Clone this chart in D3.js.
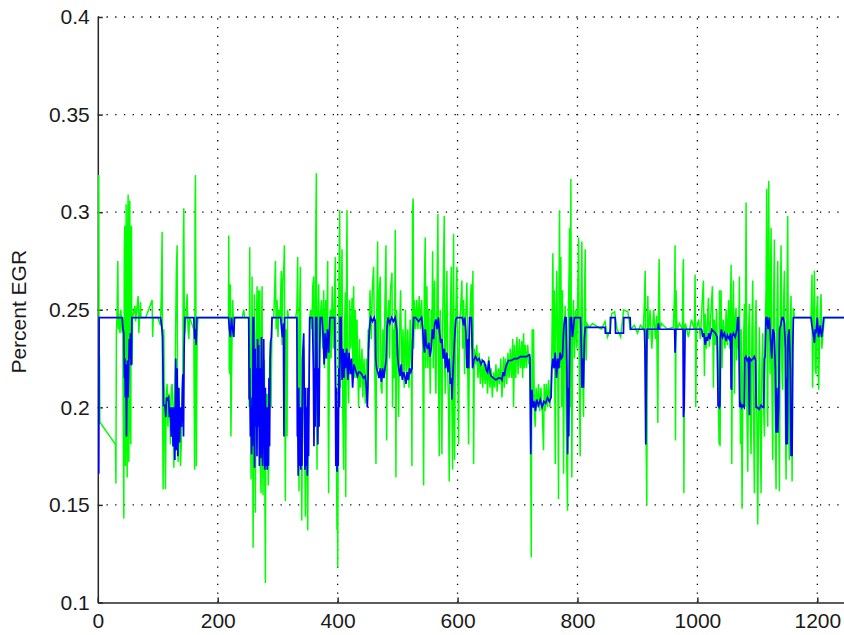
<!DOCTYPE html>
<html>
<head>
<meta charset="utf-8">
<script src="https://cdn.jsdelivr.net/npm/d3@7"></script>
<style>
  body { margin: 0; background: #fff; }
  svg { display: block; }
  text { font-family: "Liberation Sans", Arial, sans-serif; }
</style>
</head>
<body>
<div id="vis"></div>
<script>

// axis setup
const xTicks = [0, 200, 400, 600, 800, 1000, 1200];
const yTicks = [0.1, 0.15, 0.2, 0.25, 0.3, 0.35, 0.4];
const xMax = 1244.5;
const yLabel = "Percent EGR";

// green trace (estimated EGR) as [sample, value]
const greenSeries = [
  [1.6,0.319],[2.2,0.192],[2.8,0.226],[3.4,0.192],[4.5,0.192],[29.5,0.181],[30.2,0.161],[31,0.238],[32,0.246],[33.4,0.275],[34.2,0.24],[35,0.248],[37,0.238],[38.5,0.25],[40.6,0.238],[41.5,0.246],
  [43.4,0.143],[44.2,0.28],[45.1,0.293],[46,0.17],[47.3,0.304],[48,0.2],[49,0.164],[49.8,0.29],[50.6,0.309],[51.2,0.18],[51.8,0.172],[52.6,0.3],[53.4,0.306],[54.2,0.19],[55.1,0.181],[55.6,0.29],[56.2,0.293],[56.8,0.23],[57.3,0.222],[58,0.246],
  [62,0.252],[63,0.244],[67.3,0.257],[68.4,0.238],[71.2,0.254],[72,0.246],[80,0.246],[90.6,0.255],[91.5,0.236],[92.5,0.246],[100,0.246],[104.5,0.242],
  [106,0.26],[107.3,0.29],[108,0.2],[109,0.158],[110.1,0.24],[111,0.2],[112.9,0.158],[114,0.205],[115.6,0.212],[117,0.19],[118.4,0.207],[119.5,0.205],[121.2,0.181],[122.5,0.21],[124,0.212],[125.5,0.2],[126.8,0.169],[128,0.2],[129.5,0.23],[131,0.27],[132.3,0.283],[133,0.2],[134,0.172],[135.1,0.21],[136.5,0.19],[137.9,0.17],[139.5,0.183],[140.6,0.21],[141.8,0.217],[142.6,0.28],[143.4,0.302],[144.2,0.25],[145.1,0.238],[147,0.246],[149,0.258],[150.5,0.24],[151.8,0.235],[153,0.246],
  [160.1,0.24],[160.8,0.2],[161.5,0.168],[162.2,0.3],[162.9,0.319],[163.6,0.25],[164.4,0.17],[165.6,0.235],[167,0.246],
  [218,0.246],[218.4,0.288],[219.2,0.22],[220.1,0.217],[221.2,0.263],[222,0.185],[224,0.24],[225,0.255],[226.7,0.236],[228,0.246],[241,0.246],[243.4,0.25],[245,0.246],[251.7,0.246],[252.5,0.2],
  [253.4,0.282],[254.5,0.2],[255.6,0.163],[256.5,0.22],[257.3,0.267],[258.2,0.2],[259,0.128],[260.1,0.22],[261.2,0.258],[262,0.18],[262.8,0.146],[264,0.23],[265.6,0.262],[266.5,0.21],[267.3,0.207],[268.4,0.26],[269.2,0.2],[270.1,0.26],[271,0.17],[272.3,0.156],[273,0.24],[274,0.262],[274.8,0.18],[275.6,0.155],[276.7,0.224],[277.8,0.224],[278.6,0.16],[279.5,0.11],[280.3,0.2],[281.2,0.207],[282.3,0.17],[283.4,0.207],[284.2,0.16],[285,0.17],[286.5,0.22],[287.8,0.234],[289,0.2],[290.6,0.246],
  [293.4,0.246],[295,0.26],[296.2,0.275],[297.5,0.24],[299,0.255],[300.5,0.236],[302,0.25],[304,0.246],[306,0.27],[307.3,0.232],[308.5,0.265],[310,0.27],[311.2,0.283],[312,0.2],[312.8,0.152],[314,0.24],[315.6,0.185],[316.5,0.25],[318,0.246],
  [330,0.246],[332,0.25],[333.4,0.277],[334.5,0.2],[335.6,0.157],[336.7,0.25],[337.8,0.272],[339,0.2],[340.1,0.142],[341.5,0.2],[343.4,0.231],[344.8,0.19],[346.2,0.144],[347,0.2],[347.8,0.2],[349,0.17],[350.1,0.137],[351.2,0.2],[352.3,0.207],[353.4,0.246],
  [355,0.25],[357,0.24],[358.5,0.262],[360.1,0.267],[361,0.2],[362.8,0.25],[363.6,0.29],[364.5,0.32],[365,0.2],[365.6,0.168],[366.5,0.24],[368.4,0.263],[369.5,0.22],[371,0.246],[373,0.255],[375,0.23],[376.7,0.26],[378,0.22],[380,0.255],[381.5,0.225],[383.4,0.275],[384.2,0.2],[385,0.156],[386,0.22],[387.8,0.25],[389,0.225],[391,0.262],[393,0.23],[395,0.26],
  [396.2,0.277],[397.5,0.2],[398.9,0.137],[399.5,0.2],[400.1,0.118],[401,0.2],[402,0.26],[403.4,0.301],[404.5,0.21],[405.6,0.24],[407.3,0.281],[408.5,0.2],[410.1,0.168],[411.5,0.24],[412.8,0.259],[413.5,0.154],[414.5,0.25],[415.6,0.301],[416.5,0.22],[418.4,0.202],[420,0.255],[422,0.23],[424,0.256],[425.5,0.22],[426.7,0.262],[428,0.215],[429.5,0.25],[431,0.215],[432.2,0.245],[434,0.215],[435,0.2],[436.5,0.235],[438,0.21],[440.6,0.23],[442,0.205],[444,0.225],[446.1,0.202],[448,0.225],[449.5,0.21],[451,0.24],[452.5,0.23],[454,0.26],[456,0.235],[458,0.262],[460,0.272],[461.5,0.23],[462.8,0.2],[463.9,0.171],[465,0.24],[466.7,0.285],[467.5,0.22],[468.4,0.22],[469.5,0.26],[471.1,0.267],[472.5,0.21],[473.9,0.207],[475.5,0.24],[477,0.215],[479,0.255],[480.6,0.283],[481.7,0.183],[483,0.24],[485,0.255],[486.5,0.225],[488,0.26],[490.6,0.269],[491.5,0.2],[493,0.24],[494.5,0.215],[496.1,0.291],[497.2,0.164],[498.2,0.25],[500,0.235],[501.7,0.195],[503,0.235],[505,0.26],[507,0.215],[509,0.24],[511,0.21],[513,0.25],[515,0.215],[517,0.24],[519,0.21],[521,0.245],[523,0.22],[523.9,0.17],[524.8,0.3],[526,0.307],[526.7,0.23],[528,0.255],[530,0.24],[532,0.255],[534,0.24],[536,0.257],[538,0.24],[540,0.255],[542,0.23],[543.4,0.16],[544.5,0.26],[546.1,0.287],[547,0.22],[548.9,0.262],[550.5,0.22],[552,0.25],[554.5,0.207],[556,0.25],[557.2,0.235],[558.4,0.28],[559.5,0.22],[560.5,0.25],[561.7,0.265],[562.8,0.22],[563.9,0.207],[565.5,0.25],[567.2,0.299],[568.2,0.22],[569.5,0.175],[571,0.25],[572.5,0.23],[573.9,0.176],[575,0.24],[576.5,0.27],[577.8,0.298],[578.6,0.22],[579.5,0.207],[581,0.25],[582.2,0.27],[583.5,0.22],[585,0.2],[586.1,0.162],[587.5,0.24],[589.5,0.272],[590.6,0.2],[591.7,0.168],[592.5,0.25],[593.4,0.289],[594.2,0.2],[595,0.173],[596.5,0.24],[598.9,0.272],[600,0.23],[601.7,0.181],[603,0.24],[605,0.25],[607.2,0.265],[608.5,0.23],[610,0.255],[611.7,0.217],[612.8,0.245],[614,0.25],[615.6,0.264],[617,0.22],[618.4,0.181],[620,0.24],[621.5,0.255],[622.8,0.263],[624,0.23],[625.6,0.27],[626.8,0.171],[628,0.23],
  [630,0.222],[632,0.232],[634,0.215],[636,0.228],[638,0.212],[640,0.225],[642,0.21],[644,0.224],[646,0.212],[648,0.222],[650,0.207],[652,0.226],[654,0.21],[656,0.22],[658,0.205],[660,0.218],[662,0.21],[664,0.222],[666,0.208],[668,0.22],[670,0.212],[672,0.225],[674,0.205],[676.8,0.226],[678,0.21],[680,0.225],[682,0.212],[684,0.228],[686,0.215],[688,0.23],[690,0.215],[692,0.235],[693.4,0.2],[695,0.232],[697,0.215],[699,0.236],[701,0.217],[703,0.235],[705,0.22],[707,0.234],[708.5,0.215],[710.1,0.238],[711.5,0.22],[713,0.232],[715,0.22],[717,0.232],[719,0.222],[720.5,0.225],[721.8,0.19],[722.9,0.123],[723.6,0.2],[724.5,0.24],[725.5,0.205],[726.8,0.24],[728,0.2],[729.5,0.19],[731,0.21],[733,0.2],[735,0.212],[737,0.198],[739,0.21],[741,0.2],[743.4,0.178],[744.5,0.212],[746,0.198],[748,0.212],[750,0.2],[752,0.214],[754,0.2],[756,0.213],
  [757.3,0.23],[759,0.279],[760,0.22],[761.5,0.26],[762.9,0.171],[764,0.24],[765.5,0.27],[767,0.23],[768.4,0.153],[769.2,0.26],[770.1,0.301],[771,0.22],[772.3,0.277],[773.5,0.2],[775,0.26],[776.8,0.166],[778,0.24],[779.5,0.252],[781,0.2],[782.3,0.17],[783.4,0.147],[784.5,0.24],[786,0.27],[786.8,0.292],[787.9,0.2],[789,0.317],[790,0.2],[790.6,0.164],[792,0.24],[793.4,0.255],[795,0.225],[797,0.25],[799,0.23],[800.5,0.26],[801.8,0.287],[803,0.22],[804.5,0.175],[805.5,0.24],[807.3,0.285],[808.5,0.22],[810.1,0.195],[811.5,0.25],[812.9,0.281],[813.8,0.23],[814.5,0.224],[815.6,0.243],[820,0.241],[825,0.243],[830,0.242],
  [835,0.241],[840,0.24],[846,0.244],[850,0.236],[855,0.24],[857,0.248],[862,0.249],[866,0.24],[872,0.236],[877,0.25],[884,0.249],[888,0.24],[895,0.242],[900,0.238],[905,0.242],[910,0.24],
  [911.7,0.255],[913,0.27],[913.9,0.2],[915.6,0.15],[916.5,0.24],[917.3,0.257],[918.4,0.235],[921,0.25],[924,0.23],[927,0.25],[930,0.235],[932,0.247],[934,0.192],[935,0.25],[936.2,0.276],[937.5,0.24],[940,0.243],[950,0.24],[960,0.241],[962,0.26],[962.8,0.283],[963.5,0.183],[964.5,0.26],[966,0.24],[970,0.243],[975,0.24],[976,0.27],[976.7,0.276],[977.5,0.156],[978.5,0.24],[980,0.243],[985,0.236],[990,0.245],[995,0.24],[996.2,0.268],[997.3,0.2],[998.5,0.24],[1002,0.245],[1005,0.235],[1007.3,0.25],[1010,0.265],[1011.7,0.216],[1013,0.248],[1015,0.23],[1018.4,0.256],[1020,0.231],[1022,0.245],[1025,0.262],[1026.7,0.21],[1028,0.245],[1030,0.232],[1032,0.25],[1034,0.22],[1036.2,0.181],[1036.8,0.26],[1037.8,0.18],[1039.5,0.26],[1041,0.22],[1043,0.245],[1046,0.23],[1048,0.25],[1050,0.232],[1052,0.255],[1054,0.23],[1056.2,0.273],[1057.3,0.171],[1058.5,0.24],[1060.1,0.265],[1061.8,0.207],[1063,0.245],[1064.5,0.251],[1065.5,0.224],[1067,0.245],[1068.5,0.23],
  [1070.1,0.267],[1071.8,0.181],[1073,0.24],[1074.5,0.148],[1076,0.22],[1078.4,0.253],[1079.5,0.2],[1081.2,0.305],[1082.5,0.2],[1084,0.167],[1085.5,0.24],[1086.8,0.253],[1088,0.2],[1089.5,0.176],[1091,0.24],[1092.3,0.265],[1093.5,0.2],[1095.1,0.156],[1096.5,0.24],[1097.9,0.255],[1099,0.2],[1100.6,0.14],[1102,0.2],[1103.4,0.241],[1104.8,0.19],[1106.2,0.156],[1107.5,0.22],[1109,0.238],[1110.5,0.2],[1111.8,0.185],[1113,0.24],[1114.5,0.26],[1115.6,0.312],[1116.5,0.2],[1117.3,0.19],[1118.2,0.28],[1119,0.316],[1120,0.24],[1121.2,0.217],[1122,0.27],[1122.9,0.292],[1124,0.22],[1125.6,0.173],[1127,0.25],[1128.4,0.286],[1129.5,0.2],[1131.2,0.158],[1132.5,0.24],[1134,0.275],[1135.5,0.2],[1136.8,0.157],[1138,0.24],[1139.5,0.283],[1141,0.22],[1142.3,0.209],[1143.5,0.25],[1145.1,0.27],[1146.5,0.2],[1147.9,0.163],[1149,0.24],[1150.6,0.298],[1152,0.2],[1153.4,0.173],[1154.5,0.24],[1156.2,0.257],[1157.2,0.2],[1157.9,0.162],[1159,0.22],[1160.1,0.251],[1161.8,0.246],
  [1189.5,0.246],[1190.5,0.26],[1191.2,0.268],[1192,0.21],[1193.5,0.24],[1195.1,0.27],[1196.5,0.22],[1197.9,0.217],[1199,0.25],[1200.6,0.257],[1201.5,0.22],[1202.3,0.209],[1204,0.24],[1206.2,0.258],[1207.5,0.23],[1209,0.236],[1211.8,0.246],[1244.5,0.246]
];

// blue trace (commanded EGR) as [sample, value]
const blueSeries = [
  [1.6,0.166],[2.2,0.246],[40.6,0.246],[42,0.24],[43.4,0.238],[44.5,0.215],[45.1,0.225],[46,0.205],[47,0.222],[47.8,0.185],[48.5,0.21],[49.5,0.224],[50.5,0.205],[51.5,0.22],[52.5,0.235],[53.4,0.225],[54.5,0.238],[55.5,0.222],[56.2,0.222],[56.8,0.246],
  [104.5,0.246],[106,0.243],[107,0.24],[108,0.236],[109.5,0.201],[112,0.201],[113.5,0.195],[114.5,0.205],[116,0.204],[118,0.205],[119.5,0.195],[121,0.2],[122.5,0.185],[124,0.2],[125.5,0.18],[127,0.2],[128.5,0.173],[130,0.225],[131,0.178],[132.3,0.22],[133.5,0.175],[135,0.21],[136.5,0.182],[138,0.2],[139.5,0.19],[140.6,0.2],[141.8,0.217],[143,0.185],[144,0.23],[145.1,0.246],
  [160.1,0.246],[161.5,0.235],[162.9,0.24],[164,0.232],[165,0.246],
  [218,0.246],[219.5,0.24],[221.2,0.236],[223,0.246],[224,0.242],[226.7,0.236],[228,0.246],
  [251.7,0.246],[252.5,0.204],[253.4,0.22],[254.5,0.185],[255.6,0.2],[256.5,0.176],[257.3,0.205],[258.2,0.18],[259,0.246],[260,0.246],[260.8,0.2],[261.5,0.169],[262.5,0.23],[263.5,0.19],[264.5,0.22],[265.5,0.175],[266.5,0.235],[267.5,0.19],[268.4,0.232],[269.5,0.17],[270.5,0.22],[271.5,0.174],[272.3,0.2],[273,0.236],[274,0.181],[275,0.17],[276.7,0.235],[277.5,0.2],[278.5,0.168],[279.5,0.21],[280.5,0.17],[281.5,0.2],[282.5,0.168],[283.5,0.2],[284.5,0.17],[285.5,0.215],[286.5,0.18],[287.5,0.225],[288.5,0.234],[289.5,0.236],[290.6,0.246],
  [305,0.246],[306.5,0.24],[308,0.236],[309.5,0.243],[310.5,0.185],[311.5,0.246],
  [332,0.246],[332.8,0.185],[333.4,0.2],[334.2,0.165],[335,0.21],[336,0.17],[337.5,0.2],[338.5,0.168],[339.5,0.2],[340.5,0.17],[341.5,0.225],[343.4,0.238],[344.5,0.2],[345.5,0.168],[346.5,0.21],[347.5,0.17],[348.5,0.2],[349.5,0.165],[350.5,0.21],[351.5,0.175],[352.5,0.215],[353.4,0.246],
  [358,0.246],[359.5,0.22],[360.5,0.18],[361.5,0.22],[362.5,0.19],[363.5,0.246],[365,0.246],[366,0.2],[367,0.181],[368,0.22],[369,0.19],[370,0.23],[371,0.246],[374,0.246],[376,0.235],[377.5,0.222],[379,0.238],[381,0.225],[383,0.24],[385,0.228],[387,0.246],[393,0.246],
  [395,0.246],[396.2,0.215],[397,0.17],[398,0.21],[399,0.167],[400,0.2],[401,0.17],[402,0.22],[403,0.2],[404,0.246],[405.6,0.246],[406.5,0.225],[407.5,0.214],[409,0.23],[410.5,0.215],[412,0.228],
  [413,0.22],[415,0.23],[417,0.214],[419,0.228],[421,0.217],[423,0.225],[425,0.21],[427,0.222],[429,0.22],[431,0.218],[433,0.216],[435,0.218],[437,0.218],[440,0.217],[443,0.215],[446,0.216],[448,0.21],[449.5,0.2],[450.5,0.21],[451.7,0.232],[453,0.24],[455,0.246],[458,0.244],[461,0.246],[462.8,0.244],[463.5,0.225],[465,0.22],[467,0.218],[469,0.215],[471,0.22],[473,0.213],[475,0.22],[477,0.215],[479,0.22],[481,0.225],[482.2,0.24],[484,0.246],[487,0.243],[490,0.246],[493,0.244],[496,0.246],[498.5,0.24],[500,0.226],[502,0.22],[504,0.216],[506,0.222],[508,0.214],[510,0.218],[512,0.216],[514,0.212],[516,0.218],[518,0.214],[520,0.22],[522,0.218],[524,0.22],[525,0.232],[526.7,0.246],[530,0.246],[535,0.244],[540,0.246],[542,0.24],[543.4,0.232],[545,0.228],[546.1,0.24],[548,0.232],[550,0.23],[552,0.233],[554,0.226],[556,0.23],[558,0.24],[560,0.235],[562,0.243],[564,0.245],[566,0.24],[568,0.246],[570,0.238],[572,0.233],[574,0.235],[576,0.225],[578,0.23],[580,0.22],[582,0.228],[584,0.218],[586,0.225],[588,0.212],[590,0.215],[590.6,0.204],[591.5,0.212],[593,0.222],[595,0.235],[597,0.245],[599,0.246],[608,0.246],[610,0.242],[612,0.246],[614,0.238],[615.6,0.22],[617,0.235],[618.4,0.22],[620,0.246],[622,0.246],
  [623,0.246],[624,0.236],[625,0.22],[627,0.224],[630,0.226],[633,0.224],[636,0.225],[639,0.222],[642,0.224],[645,0.223],[648,0.219],[650,0.218],[652,0.224],[654,0.218],[656,0.216],[660,0.215],[664,0.214],[668,0.215],[672,0.215],[674,0.214],[676,0.218],[678,0.216],[680,0.22],[682,0.222],[685,0.224],[690,0.224],[695,0.225],[700,0.225],[705,0.226],[710,0.226],[715,0.226],[720,0.227],[720.8,0.225],[721.2,0.207],[722,0.176],[723,0.2],[724,0.209],[726,0.2],[728,0.203],[730,0.198],[732,0.204],[735,0.201],[738,0.204],[741,0.2],[744,0.203],[747,0.202],[750,0.205],[753,0.203],[756,0.205],[757.3,0.22],[759,0.225],[761,0.22],[763,0.228],[765,0.215],[767,0.225],[769,0.22],[771,0.228],[773,0.225],[775,0.226],[777,0.24],[779,0.246],[781,0.246],[782.3,0.22],[783.5,0.176],[784.5,0.21],[785.5,0.185],[786.5,0.22],[787.9,0.246],[790,0.246],[791.5,0.236],[793,0.24],[795,0.246],[805,0.246],[806.5,0.23],[807.3,0.21],[808.5,0.225],[810,0.21],[811.5,0.235],[812.9,0.241],
  [830,0.241],[846,0.241],[846.5,0.238],[854.5,0.238],[855,0.246],[862.8,0.246],[863.5,0.238],[876.7,0.238],[877.2,0.246],[887.8,0.246],[888.5,0.24],[911.7,0.24],[912.5,0.23],[913.9,0.181],[915,0.22],[916,0.24],[934,0.24],[935,0.243],[936,0.24],[962,0.24],[962.8,0.228],[964,0.24],[976,0.24],[976.7,0.195],[978,0.2],[979.5,0.24],[1007,0.24],[1009,0.236],[1011,0.238],[1013,0.232],[1015,0.236],[1017,0.234],[1019,0.238],[1021,0.235],[1024,0.24],[1030,0.238],[1033,0.236],[1034.5,0.201],[1036.8,0.2],[1037.5,0.201],[1038.5,0.236],[1040,0.24],
  [1042,0.236],[1045,0.238],[1048,0.234],[1050,0.237],[1053,0.235],[1055.5,0.238],[1056.2,0.21],[1057,0.209],[1057.8,0.236],[1060,0.238],[1063,0.236],[1066,0.24],[1067.3,0.246],[1068.5,0.246],[1069.5,0.225],[1070.5,0.2],[1072,0.202],[1074,0.2],[1076,0.201],[1078,0.2],[1079,0.225],[1081,0.226],[1083,0.224],[1085,0.225],[1086.8,0.196],[1087.5,0.225],[1090,0.224],[1093,0.225],[1095,0.226],[1097,0.224],[1097.9,0.2],[1100,0.2],[1103,0.199],[1106,0.201],[1109,0.2],[1110.5,0.2],[1111.8,0.225],[1113,0.226],[1114.5,0.246],[1116,0.246],[1118,0.24],[1120,0.246],[1122,0.235],[1124,0.225],[1126,0.24],[1128,0.238],[1130,0.22],[1131.2,0.187],[1132.5,0.21],[1134,0.187],[1135.5,0.2],[1137,0.24],[1139,0.242],[1141,0.246],[1143,0.246],[1145,0.243],[1147,0.23],[1147.9,0.181],[1148.8,0.215],[1150,0.181],[1151,0.235],[1153,0.24],[1155,0.22],[1156.2,0.175],[1157.2,0.2],[1157.9,0.175],[1159,0.23],[1160.1,0.246],
  [1189.5,0.246],[1190.5,0.243],[1192,0.24],[1194,0.236],[1195.1,0.233],[1196.5,0.24],[1198,0.238],[1200,0.246],[1202,0.236],[1203,0.238],[1205,0.242],[1207,0.236],[1209,0.24],[1210.5,0.246],[1244.5,0.246]
];

drawChart();

function drawChart() {
  const width = 844;
  const height = 635;
  const left = 97.8;
  const right = 844;
  const top = 17;
  const bottom = 602.5;

  const svg = d3.select("#vis")
    .append("svg")
    .attr("width", width)
    .attr("height", height);

  const x = d3.scaleLinear().domain([0, xMax]).range([left, right]);
  const y = d3.scaleLinear().domain([0.1, 0.4]).range([bottom, top]);

  svg.append("clipPath")
    .attr("id", "plot-clip")
    .append("rect")
    .attr("x", left)
    .attr("y", 0)
    .attr("width", right - left)
    .attr("height", bottom);

  //dotted grid
  const grid = svg.append("g")
    .attr("stroke", "#000")
    .attr("stroke-width", 1.3)
    .attr("stroke-dasharray", "1.3 7.4");

  grid.selectAll(".gx")
    .data(xTicks.filter((d) => d > 0))
    .enter()
    .append("line")
    .attr("x1", (d) => x(d))
    .attr("x2", (d) => x(d))
    .attr("y1", bottom)
    .attr("y2", top);

  grid.selectAll(".gy")
    .data(yTicks.filter((d) => d > 0.1))
    .enter()
    .append("line")
    .attr("x1", left)
    .attr("x2", right)
    .attr("y1", (d) => y(d))
    .attr("y2", (d) => y(d));

  //axes with inward ticks, drawn under the traces like matlab does
  const yAxis = d3.axisLeft(y)
    .tickValues(yTicks)
    .tickFormat((d) => String(d))
    .tickSize(-5)
    .tickSizeOuter(0)
    .tickPadding(8);

  const xAxis = d3.axisBottom(x)
    .tickValues(xTicks)
    .tickFormat((d) => String(d))
    .tickSize(-5)
    .tickSizeOuter(0)
    .tickPadding(11);

  const gy = svg.append("g")
    .attr("transform", "translate(" + left + ",0)")
    .call(yAxis);

  const gx = svg.append("g")
    .attr("transform", "translate(0," + bottom + ")")
    .call(xAxis);

  [gx, gy].forEach((g) => {
    g.select(".domain").attr("stroke", "#262626").attr("stroke-width", 1.5);
    g.selectAll(".tick line").attr("stroke", "#262626").attr("stroke-width", 1.5);
    g.selectAll(".tick text")
      .attr("fill", "#1a1a1a")
      .style("font-size", "21px")
      .style("font-family", "'Liberation Sans', Arial, sans-serif");
  });

  const line = d3.line()
    .x((d) => x(d[0]))
    .y((d) => y(d[1]));

  const plot = svg.append("g").attr("clip-path", "url(#plot-clip)");

  plot.append("path")
    .datum(greenSeries)
    .attr("fill", "none")
    .attr("stroke", "#00ff00")
    .attr("stroke-width", 1.5)
    .attr("d", line);

  plot.append("path")
    .datum(blueSeries)
    .attr("fill", "none")
    .attr("stroke", "#0000ff")
    .attr("stroke-width", 1.7)
    .attr("d", line);

  svg.append("text")
    .attr("transform", "translate(26," + ((top + bottom) / 2 + 2) + ") rotate(-90)")
    .attr("text-anchor", "middle")
    .attr("fill", "#1a1a1a")
    .style("font-size", "21px")
    .text(yLabel);
}
</script>
</body>
</html>
